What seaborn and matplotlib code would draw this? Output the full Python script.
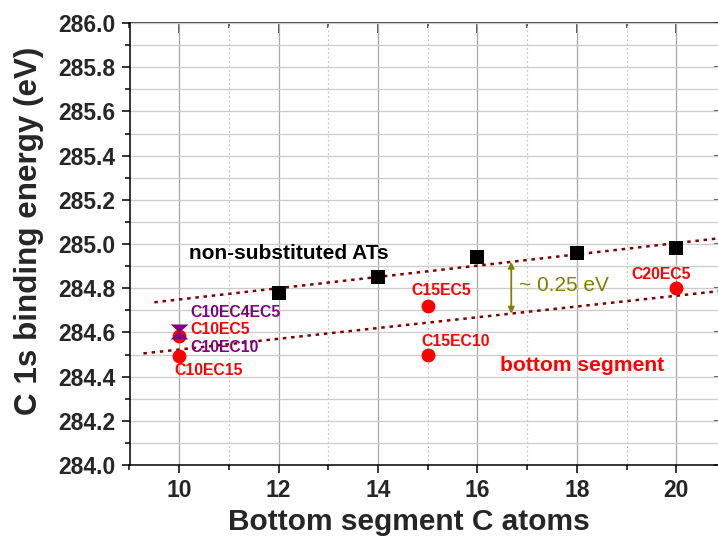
import numpy as np
import matplotlib
matplotlib.use("Agg")
import matplotlib.pyplot as plt
from matplotlib.path import Path
from matplotlib.ticker import MultipleLocator
import seaborn as sns
import pandas as pd

# Non-substituted alkanethiol monolayers
at_atoms = [12, 14, 16, 18, 20]
at_energy = [284.78, 284.85, 284.94, 284.96, 284.98]

# Ester-containing monolayers: bottom segment signal
bottom_names = ["C10EC5", "C10EC15", "C15EC5", "C15EC10", "C20EC5"]
bottom_atoms = [10, 10, 15, 15, 20]
bottom_energy = [284.584, 284.495, 284.72, 284.50, 284.80]

# Double-ester / long-ester monolayers
multi_names = ["C10EC4EC5", "C10EC10"]
multi_atoms = [10, 10]
multi_energy = [284.621, 284.586]

x_ticks = [10, 12, 14, 16, 18, 20]
y_ticks = [284.0, 284.2, 284.4, 284.6, 284.8, 285.0, 285.2, 285.4, 285.6, 285.8, 286.0]

RED = "#ff0000"
PURPLE = "#800080"
DARKRED = "#800000"
OLIVE = "#808000"

sns.set_theme(style="ticks")
plt.rcParams["font.family"] = ["Liberation Sans", "DejaVu Sans"]
plt.rcParams["font.weight"] = "bold"
plt.rcParams["axes.labelweight"] = "bold"

fig = plt.figure(figsize=(7.18, 5.36), dpi=100)
ax = fig.add_axes([129.5 / 718, 71 / 536, 596.5 / 718, 442 / 536])

ax.set_xlim(9, 21)
ax.set_ylim(284.0, 286.0)

# grid: horizontal every 0.1, vertical solid on majors and dotted on minors
ax.xaxis.set_major_locator(MultipleLocator(2))
ax.xaxis.set_minor_locator(MultipleLocator(1))
ax.yaxis.set_major_locator(MultipleLocator(0.2))
ax.yaxis.set_minor_locator(MultipleLocator(0.1))
ax.set_xticks(x_ticks)
ax.set_yticks(y_ticks)
ax.set_yticklabels([f"{v:.1f}" for v in y_ticks])
ax.grid(axis="y", which="both", color="#cccccc", lw=0.9, ls="-")
ax.grid(axis="x", which="major", color="#a8a8a8", lw=0.9, ls="-")
ax.grid(axis="x", which="minor", color="#c8c8c8", lw=0.9, ls=(0, (1.5, 2)))
ax.set_axisbelow(True)

df_at = pd.DataFrame({"atoms": at_atoms, "energy": at_energy})
df_bot = pd.DataFrame({"atoms": bottom_atoms, "energy": bottom_energy, "name": bottom_names})

# trend lines (linear fits) for both families
dots = (0, (1.4, 1.9))
k_at, b_at = np.polyfit(at_atoms, at_energy, 1)
k_bot, b_bot = np.polyfit(bottom_atoms, bottom_energy, 1)
xu = np.array([9.5, 21.0])
xl = np.array([9.28, 21.0])
ax.plot(xu, k_at * xu + b_at, color=DARKRED, lw=1.8, ls=dots, zorder=2)
ax.plot(xl, k_bot * xl + b_bot, color=DARKRED, lw=1.8, ls=dots, zorder=2)

sns.scatterplot(data=df_at, x="atoms", y="energy", marker="s", s=90,
                color="black", edgecolor="black", linewidth=0, ax=ax, zorder=3)
sns.scatterplot(data=df_bot, x="atoms", y="energy", marker="o", s=100,
                color=RED, edgecolor=RED, linewidth=0, ax=ax, zorder=3)

# hourglass at x = 10: flat downward and upward triangles
tri_down = Path([(-1, 0.45), (1, 0.45), (0, -0.45), (-1, 0.45)])
tri_up = Path([(-1, -0.45), (1, -0.45), (0, 0.45), (-1, -0.45)])
for xv, yv, mk in zip(multi_atoms, multi_energy, [tri_down, tri_up]):
    sns.scatterplot(x=[xv], y=[yv], marker=mk, s=165, color=PURPLE,
                    edgecolor=PURPLE, linewidth=0, ax=ax, zorder=5)

# point labels (offsets in points)
lab_fs = 11.3
bottom_offsets = {"C10EC5": (7.8, 4.7, "left"), "C10EC15": (21.1, -10.4, "center"),
                  "C15EC5": (9.6, 11.4, "center"), "C15EC10": (20.4, 9.7, "center"),
                  "C20EC5": (-10.9, 9.9, "center")}
for n, xv, yv in zip(bottom_names, bottom_atoms, bottom_energy):
    dx, dy, ha = bottom_offsets[n]
    ax.annotate(n, (xv, yv), xytext=(dx, dy), textcoords="offset points",
                ha=ha, va="center", color=RED, fontsize=lab_fs, fontweight="bold", zorder=6)
multi_offsets = {"C10EC4EC5": (7.8, 11.3), "C10EC10": (7.8, -8.6)}
for n, xv, yv in zip(multi_names, multi_atoms, multi_energy):
    dx, dy = multi_offsets[n]
    ax.annotate(n, (xv, yv), xytext=(dx, dy), textcoords="offset points",
                ha="left", va="center", color=PURPLE, fontsize=lab_fs, fontweight="bold", zorder=6)

ax.text(10.2, 284.957, "non-substituted ATs", ha="left", va="center",
        fontsize=15, fontweight="bold", color="black")
ax.text(18.11, 284.448, "bottom segment", ha="center", va="center",
        fontsize=15.2, fontweight="bold", color=RED)

# shift between the two trend lines
xa = 16.68
ax.annotate("", xy=(xa, k_at * xa + b_at), xytext=(xa, k_bot * xa + b_bot),
            arrowprops=dict(arrowstyle="<|-|>", color=OLIVE, lw=1.3,
                            mutation_scale=9, shrinkA=0, shrinkB=0), zorder=5)
ax.text(16.84, 284.812, "~ 0.25 eV", ha="left", va="center",
        fontsize=15, fontweight="normal", color=OLIVE)

# axes styling
for side in ["left", "bottom"]:
    ax.spines[side].set_linewidth(1.1)
    ax.spines[side].set_color("black")
ax.spines["top"].set_visible(False)
ax.spines["right"].set_visible(False)
ax.tick_params(which="major", direction="out", length=6, width=1.1, color="black",
               labelsize=16.5, pad=4)
ax.tick_params(which="minor", direction="out", length=3.5, width=1.1, color="black")
for lab in ax.get_xticklabels() + ax.get_yticklabels():
    lab.set_fontweight("bold")

top = ax.secondary_xaxis("top")
top.xaxis.set_major_locator(MultipleLocator(2))
top.xaxis.set_minor_locator(MultipleLocator(1))
top.tick_params(which="major", direction="in", length=7, width=1.1, labeltop=False)
top.tick_params(which="minor", direction="in", length=3.5, width=1.1)
top.spines["top"].set_linewidth(1.1)
right = ax.secondary_yaxis("right")
right.yaxis.set_major_locator(MultipleLocator(0.2))
right.yaxis.set_minor_locator(MultipleLocator(0.1))
right.tick_params(which="major", direction="in", length=9, width=1.1, labelright=False)
right.tick_params(which="minor", direction="in", length=4, width=1.1)
right.spines["right"].set_linewidth(1.1)

ax.set_xlabel("Bottom segment C atoms", fontsize=21.5, fontweight="bold")
ax.set_ylabel("C 1s binding energy (eV)", fontsize=22.6, fontweight="bold")
ax.xaxis.set_label_coords((409 - 129.5) / 596.5, -0.097)
ax.yaxis.set_label_coords((44 - 129.5) / 596.5, (465 - 231) / 442)

fig.savefig("out.png", dpi=100)
